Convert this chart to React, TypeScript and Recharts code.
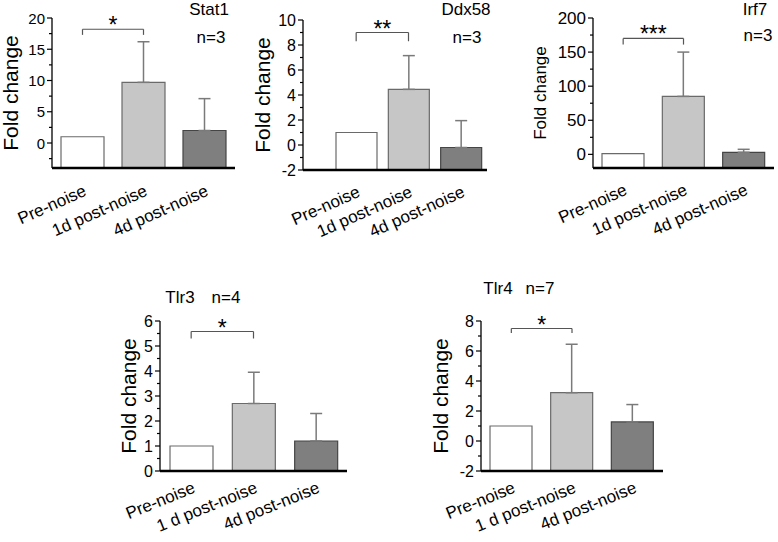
import React from "react";
import { BarChart, Bar, XAxis, YAxis, ErrorBar, ReferenceLine, Cell } from "recharts";

const FONT = '"Liberation Sans", Arial, sans-serif';

// categories
const groups = ["Pre-noise", "1d post-noise", "4d post-noise"];
const groupsSpaced = ["Pre-noise", "1 d post-noise", "4d post-noise"];

// fold change means and upper SD, per gene
const stat1Values = [1, 9.7, 2.0];
const stat1Errors = [0, 6.5, 5.1];
const ddx58Values = [1, 4.45, -0.2];
const ddx58Errors = [0, 2.7, 2.15];
const irf7Values = [1, 85, 3];
const irf7Errors = [0, 65, 4.4];
const tlr3Values = [1, 2.7, 1.2];
const tlr3Errors = [0, 1.25, 1.1];
const tlr4Values = [1, 3.22, 1.27];
const tlr4Errors = [0, 3.23, 1.16];

// y ticks (majors get a label, the rest are minor ticks)
const stat1Ticks = [-2.5, 0, 2.5, 5, 7.5, 10, 12.5, 15, 17.5, 20];
const ddx58Ticks = [-2, -1, 0, 1, 2, 3, 4, 5, 6, 7, 8, 9, 10];
const irf7Ticks = [0, 25, 50, 75, 100, 125, 150, 175, 200];
const tlr3Ticks = [0, 0.5, 1, 1.5, 2, 2.5, 3, 3.5, 4, 4.5, 5, 5.5, 6];
const tlr4Ticks = [-2, -1, 0, 1, 2, 3, 4, 5, 6, 7, 8];

const fills = ["#ffffff", "#c6c6c6", "#7f7f7f"];
const strokes = ["#6a6a6a", "#6a6a6a", "#454545"];

type Panel = {
  name: string;
  n: string;
  cats: string[];
  values: number[];
  errors: number[];
  ticks: number[];
  major: number;
  domain: [number, number];
  bracket: [number, number];
  stars: string;
  box: { x: number; y: number; w: number; h: number };
  plot: { l: number; t: number; r: number; b: number };
  barSize: number;
  padLeft: number;
  tickFont: number;
  foldFont: number;
  foldDx: number;
  catDy: number;
  catAngle: number;
  title: [number, number];
  nPos: [number, number];
};

const panels: Panel[] = [
  {
    name: "Stat1", n: "n=3", cats: groups, values: stat1Values, errors: stat1Errors,
    ticks: stat1Ticks, major: 5, domain: [-4, 20], bracket: [18.2, 17.3], stars: "*",
    box: { x: 0, y: 0, w: 255, h: 262 }, plot: { l: 52, t: 18, r: 235, b: 168 },
    barSize: 43, padLeft: 0, tickFont: 15, foldFont: 21, foldDx: 42, catDy: 27, catAngle: -24,
    title: [209, 9], nPos: [211, 37],
  },
  {
    name: "Ddx58", n: "n=3", cats: groups, values: ddx58Values, errors: ddx58Errors,
    ticks: ddx58Ticks, major: 2, domain: [-2, 10], bracket: [9, 8.3], stars: "**",
    box: { x: 255, y: 0, w: 260, h: 262 }, plot: { l: 303, t: 20, r: 487, b: 170 },
    barSize: 41, padLeft: 27, tickFont: 16, foldFont: 21, foldDx: 41, catDy: 26, catAngle: -24,
    title: [466, 9], nPos: [467, 37],
  },
  {
    name: "Irf7", n: "n=3", cats: groups, values: irf7Values, errors: irf7Errors,
    ticks: irf7Ticks, major: 50, domain: [-20, 200], bracket: [170, 161], stars: "***",
    box: { x: 515, y: 0, w: 263, h: 262 }, plot: { l: 593, t: 18, r: 774, b: 168 },
    barSize: 42, padLeft: 0, tickFont: 17, foldFont: 17, foldDx: 53, catDy: 26, catAngle: -24,
    title: [755, 9], nPos: [758, 35],
  },
  {
    name: "Tlr3", n: "n=4", cats: groupsSpaced, values: tlr3Values, errors: tlr3Errors,
    ticks: tlr3Ticks, major: 1, domain: [0, 6], bracket: [5.58, 5.3], stars: "*",
    box: { x: 90, y: 270, w: 270, h: 272 }, plot: { l: 160, t: 321, r: 347, b: 471 },
    barSize: 43, padLeft: 0, tickFont: 16, foldFont: 21, foldDx: 32, catDy: 21, catAngle: -22,
    title: [180, 297], nPos: [226, 297],
  },
  {
    name: "Tlr4", n: "n=7", cats: groupsSpaced, values: tlr4Values, errors: tlr4Errors,
    ticks: tlr4Ticks, major: 2, domain: [-2, 8], bracket: [7.5, 7.2], stars: "*",
    box: { x: 410, y: 270, w: 290, h: 272 }, plot: { l: 481, t: 321, r: 663, b: 471 },
    barSize: 42, padLeft: 0, tickFont: 16, foldFont: 21, foldDx: 41, catDy: 21, catAngle: -22,
    title: [498, 288], nPos: [540, 288],
  },
];

const Y_W = 50;
const X_H = 70;

function PanelChart({ p }: { p: Panel }) {
  const data = p.cats.map((c, i) => ({
    cat: c,
    bar: [p.domain[0], p.values[i]],
    err: p.errors[i] ? [0, p.errors[i]] : null,
  }));
  const margin = {
    top: p.plot.t - p.box.y,
    left: p.plot.l - p.box.x - Y_W,
    right: p.box.x + p.box.w - p.plot.r,
    bottom: p.box.y + p.box.h - p.plot.b - X_H,
  };

  const yTick = (props: any) => {
    const { x, y, payload } = props;
    const v = payload.value;
    const isMajor = Math.abs(v / p.major - Math.round(v / p.major)) < 1e-6;
    return (
      <g>
        <line x1={x} x2={x - (isMajor ? 5 : 3)} y1={y} y2={y} stroke="#000" strokeWidth={1.2} />
        {isMajor && (
          <text x={x - 7} y={y} textAnchor="end" dominantBaseline="central" fontSize={p.tickFont} fontFamily={FONT} fill="#000">
            {v}
          </text>
        )}
      </g>
    );
  };

  const xTick = (props: any) => {
    const { x, y, payload } = props;
    const tx = x + 5;
    const ty = y + p.catDy;
    return (
      <text x={tx} y={ty} transform={`rotate(${p.catAngle}, ${tx}, ${ty})`} textAnchor="end" fontSize={17} fontFamily={FONT} fill="#000">
        {payload.value}
      </text>
    );
  };

  const [by, bd] = p.bracket;
  const line = { stroke: "#555", strokeWidth: 1.2 };

  return (
    <div style={{ position: "absolute", left: p.box.x, top: p.box.y }}>
      <BarChart width={p.box.w} height={p.box.h} data={data} margin={margin}>
        <XAxis
          dataKey="cat"
          type="category"
          height={X_H}
          interval={0}
          tickLine={false}
          tickSize={0}
          tickMargin={0}
          padding={{ left: p.padLeft, right: 0 }}
          axisLine={{ stroke: "#000", strokeWidth: 2.5 }}
          tick={xTick}
        />
        <YAxis
          type="number"
          width={Y_W}
          domain={p.domain}
          allowDataOverflow
          ticks={p.ticks}
          interval={0}
          tickLine={false}
          tickSize={0}
          tickMargin={0}
          axisLine={{ stroke: "#000", strokeWidth: 1.3 }}
          tick={yTick}
        />
        <Bar dataKey="bar" barSize={p.barSize} isAnimationActive={false}>
          {data.map((_, i) => (
            <Cell key={i} fill={fills[i]} stroke={strokes[i]} strokeWidth={1.2} />
          ))}
          <ErrorBar dataKey="err" width={6} stroke="#7a7a7a" strokeWidth={1.5} direction="y" />
        </Bar>
        <ReferenceLine
          segment={[{ x: p.cats[0], y: by }, { x: p.cats[1], y: by }]}
          {...line}
          label={{ value: p.stars, position: "top", offset: -4, fontSize: 23, fill: "#000", fontFamily: FONT }}
        />
        <ReferenceLine segment={[{ x: p.cats[0], y: by }, { x: p.cats[0], y: bd }]} {...line} />
        <ReferenceLine segment={[{ x: p.cats[1], y: by }, { x: p.cats[1], y: bd }]} {...line} />
      </BarChart>
    </div>
  );
}

export default function App() {
  return (
    <div style={{ position: "absolute", left: 0, top: 0, width: 778, height: 542, background: "#fff", overflow: "hidden" }}>
      {panels.map((p) => (
        <PanelChart key={p.name} p={p} />
      ))}
      <svg width={778} height={542} style={{ position: "absolute", left: 0, top: 0, pointerEvents: "none" }}>
        {panels.map((p) => {
          const fx = p.plot.l - p.foldDx;
          const fy = (p.plot.t + p.plot.b) / 2;
          return (
            <g key={p.name} fontFamily={FONT} fill="#000">
              <text x={fx} y={fy} transform={`rotate(-90, ${fx}, ${fy})`} textAnchor="middle" dominantBaseline="central" fontSize={p.foldFont}>
                Fold change
              </text>
              <text x={p.title[0]} y={p.title[1]} textAnchor="middle" dominantBaseline="central" fontSize={17}>
                {p.name}
              </text>
              <text x={p.nPos[0]} y={p.nPos[1]} textAnchor="middle" dominantBaseline="central" fontSize={17}>
                {p.n}
              </text>
            </g>
          );
        })}
      </svg>
    </div>
  );
}
